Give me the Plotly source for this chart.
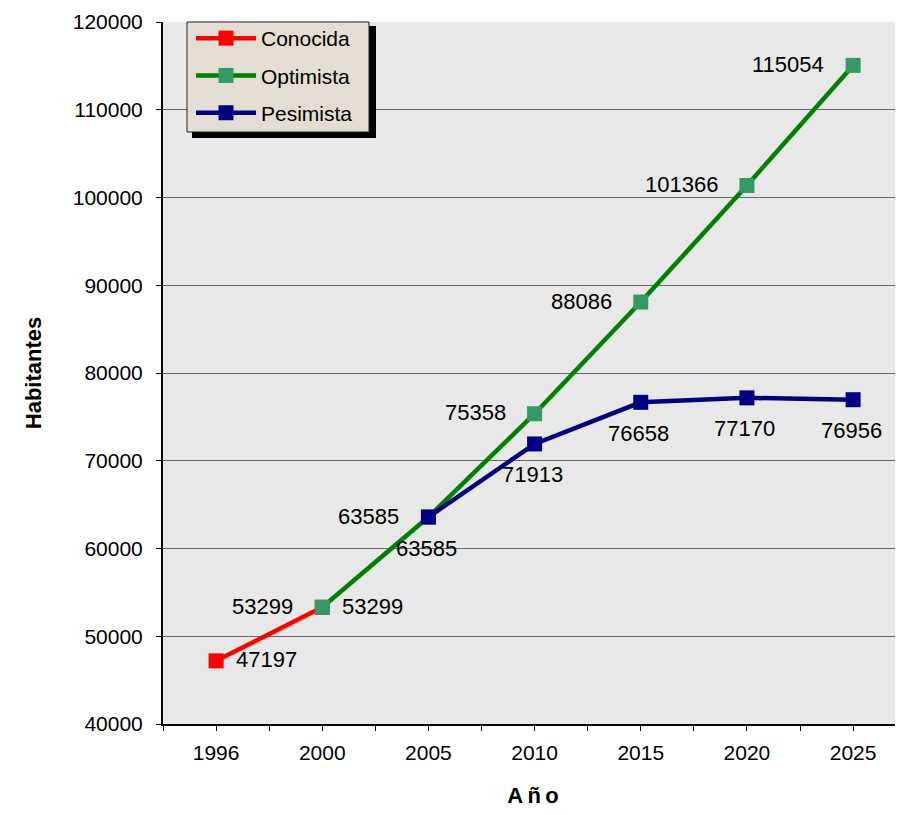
import plotly.graph_objects as go

years = ["1996", "2000", "2005", "2010", "2015", "2020", "2025"]
conocida_idx = [0, 1]
conocida = [47197, 53299]
optimista_idx = [1, 2, 3, 4, 5, 6]
optimista = [53299, 63585, 75358, 88086, 101366, 115054]
pesimista_idx = [2, 3, 4, 5, 6]
pesimista = [63585, 71913, 76658, 77170, 76956]

conocida_pos = ["right", "left"]
optimista_pos = ["right", "left", "left", "left", "left", "left"]
pesimista_pos = ["below"] * 5

FONT = "Liberation Sans, Arial, sans-serif"
fig = go.Figure()
annotations = []

def add(name, xs, ys, lc, mc, pos):
    fig.add_trace(go.Scatter(
        x=xs, y=ys, name=name, mode="lines+markers", legendgroup=name,
        line=dict(color=lc, width=4.5),
        marker=dict(symbol="square", size=15, color=mc),
        cliponaxis=False,
    ))
    for xv, yv, p in zip(xs, ys, pos):
        a = dict(x=xv, y=yv, xref="x", yref="y", text=str(yv), showarrow=False,
                 font=dict(family=FONT, size=22, color="black"))
        if p == "left":
            a.update(xanchor="right", yanchor="middle", xshift=-27, yshift=1)
        elif p == "right":
            a.update(xanchor="left", yanchor="middle", xshift=18, yshift=1)
        else:
            a.update(xanchor="center", yanchor="middle", xshift=-2, yshift=-31)
        annotations.append(a)

add("Conocida", conocida_idx, conocida, "#ff0000", "#ff0000", conocida_pos)
add("Optimista", optimista_idx, optimista, "#008000", "#339966", optimista_pos)
add("Pesimista", pesimista_idx, pesimista, "#000080", "#000080", pesimista_pos)

# page offsets: the html body has an 8px margin
OFF = 8
PW, PH, L, T = 740, 702, 163, 22
def px(x):
    return (x - L) / PW
def py(y):
    return (T + PH - y) / PH

shapes = [
    dict(type="rect", xref="paper", yref="paper",
         x0=px(192), x1=px(376), y0=py(138), y1=py(26),
         fillcolor="black", line=dict(width=0), layer="above"),
    dict(type="rect", xref="paper", yref="paper",
         x0=px(187), x1=px(369), y0=py(132), y1=py(22),
         fillcolor="#e4ddd3", line=dict(color="#222222", width=1), layer="above"),
]

W, H = 903 - OFF, 815 - OFF
fig.update_layout(
    width=W, height=H,
    margin=dict(l=L - OFF, r=0, t=T - OFF, b=H - (T - OFF) - PH),
    paper_bgcolor="white",
    plot_bgcolor="#e8e8e8",
    font=dict(family=FONT, size=21, color="black"),
    showlegend=True,
    shapes=shapes,
    annotations=annotations,
    legend=dict(
        x=px(191), y=py(18), xanchor="left", yanchor="top",
        bgcolor="rgba(0,0,0,0)", borderwidth=0,
        font=dict(family=FONT, size=21, color="black"),
        itemwidth=60, tracegroupgap=7, traceorder="grouped",
    ),
    xaxis=dict(
        range=[-0.5, 6.47], tickvals=list(range(7)), ticktext=years,
        showgrid=False, zeroline=False, automargin=False,
        showline=True, linecolor="black", linewidth=2,
        ticks="outside", ticklen=5, tickcolor="black", ticklabelstandoff=4,
        minor=dict(ticks="outside", tickvals=[-0.5, 0.5, 1.5, 2.5, 3.5, 4.5, 5.5],
                   ticklen=5, tickcolor="black"),
        tickfont=dict(family=FONT, size=21),
        title=dict(text="<b>A\u2009ñ\u2009o</b>", font=dict(family=FONT, size=22), standoff=24),
    ),
    yaxis=dict(
        range=[40000, 120000], dtick=10000, tickformat="d",
        showgrid=True, gridcolor="#6a6a6a", gridwidth=1,
        zeroline=False, automargin=False,
        showline=True, linecolor="black", linewidth=2,
        ticks="outside", ticklen=5, tickcolor="black", ticklabelstandoff=9,
        tickfont=dict(family=FONT, size=21),
        title=dict(text="<b>Habitantes</b>", font=dict(family=FONT, size=22), standoff=25),
    ),
)

fig.write_html("out.html")
